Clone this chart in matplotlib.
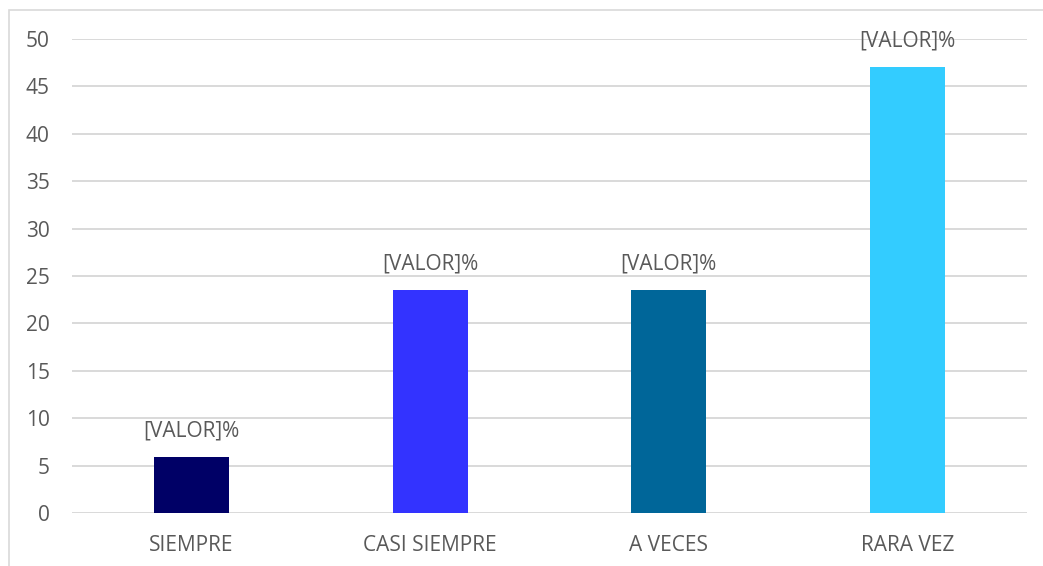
import matplotlib
matplotlib.use("Agg")
import matplotlib.pyplot as plt
from matplotlib.patches import Rectangle

categories = ["SIEMPRE", "CASI SIEMPRE", "A VECES", "RARA VEZ"]
values = [5.88, 23.53, 23.53, 47.06]
labels = ["[VALOR]%"] * 4
colors = ["#000066", "#3333FF", "#006699", "#33CCFF"]
yticks = [0, 5, 10, 15, 20, 25, 30, 35, 40, 45, 50]

W, H = 1043, 566
fig = plt.figure(figsize=(W / 100, H / 100), dpi=100)
plt.rcParams['font.family'] = ['Open Sans', 'DejaVu Sans']
txt = "#595959"

fig.patches.append(Rectangle((9 / W, -0.1), 1.2, 1 - 10 / H + 0.1, transform=fig.transFigure,
                             fill=False, edgecolor="#D9D9D9", linewidth=1.2))

ax = fig.add_axes([72 / W, 1 - 513 / H, (1027 - 72) / W, (513 - 39) / H])
x = list(range(len(categories)))
ax.bar(x, values, width=0.314, color=colors, zorder=3)
ax.set_xlim(-0.5, 3.5)
ax.set_ylim(0, 50)
ax.set_yticks(yticks)
ax.yaxis.grid(True, color="#D9D9D9", linewidth=1.4, zorder=0)
for s in ax.spines.values():
    s.set_visible(False)
ax.tick_params(axis="both", length=0, colors=txt, labelsize=15)
ax.tick_params(axis="y", pad=16)
ax.tick_params(axis="x", pad=16)
ax.set_xticks(x)
ax.set_xticklabels(categories)
for xi, v, lab in zip(x, values, labels):
    ax.annotate(lab, (xi, v), xytext=(0, 11), textcoords="offset points",
                ha="center", va="bottom", color=txt, fontsize=15)

fig.savefig("out.png", dpi=100)
